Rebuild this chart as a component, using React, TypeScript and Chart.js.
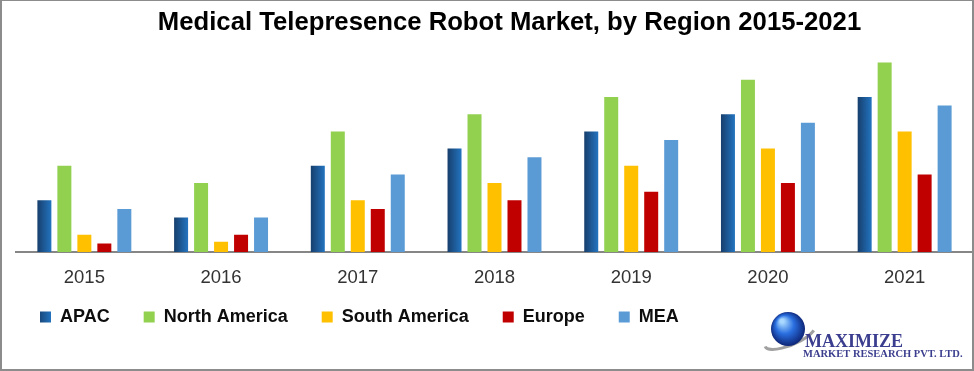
import React, { useEffect, useRef } from "react";
import { Chart, registerables } from "chart.js";

Chart.register(...registerables);

const categories = ["2015", "2016", "2017", "2018", "2019", "2020", "2021"];
const apac = [3, 2, 5, 6, 7, 8, 9];
const northAmerica = [5, 4, 7, 8, 9, 10, 11];
const southAmerica = [1, 0.6, 3, 4, 5, 6, 7];
const europe = [0.5, 1, 2.5, 3, 3.5, 4, 4.5];
const mea = [2.5, 2, 4.5, 5.5, 6.5, 7.5, 8.5];

const titleText = "Medical Telepresence Robot Market, by Region 2015-2021";

const apacFill = (c: any) => {
  const el = c.element;
  if (c.type !== "data" || !el || !isFinite(el.x) || !el.width) return "#1f62a6";
  const g = c.chart.ctx.createLinearGradient(el.x - el.width / 2, 0, el.x + el.width / 2, 0);
  g.addColorStop(0, "#173f6d");
  g.addColorStop(1, "#2374c0");
  return g;
};

// let the x tick labels draw below the (shortened) axis box without being clipped,
// and centre the title a little right of the canvas centre as in the reference
const layoutTweakPlugin = {
  id: "layoutTweak",
  afterLayout(chart: any) {
    const x = chart.scales.x;
    if (x) x.bottom = x.top + 45;
    const t = chart.titleBlock;
    if (t) t.left = 46;
  },
};

const logoPlugin = {
  id: "logo",
  afterDraw(chart: any) {
    const ctx = chart.ctx;
    ctx.save();
    ctx.strokeStyle = "#a0a0a0";
    ctx.lineWidth = 3;
    ctx.beginPath();
    ctx.ellipse(790, 336, 27, 9, -0.4, 0.15 * Math.PI, 1.0 * Math.PI);
    ctx.stroke();
    const rg = ctx.createRadialGradient(782, 321, 2, 788, 329, 18);
    rg.addColorStop(0, "#a8d8ff");
    rg.addColorStop(0.45, "#2a6fe0");
    rg.addColorStop(1, "#0b1f6e");
    ctx.fillStyle = rg;
    ctx.beginPath();
    ctx.arc(788, 329, 17, 0, Math.PI * 2);
    ctx.fill();
    ctx.fillStyle = "#3b3e8e";
    ctx.textBaseline = "alphabetic";
    ctx.textAlign = "left";
    ctx.font = 'bold 18px "Liberation Serif"';
    ctx.fillText("MAXIMIZE", 805, 347);
    ctx.font = 'bold 10.5px "Liberation Serif"';
    ctx.fillText("MARKET RESEARCH PVT. LTD.", 803, 357);
    ctx.restore();
  },
};

export default function App() {
  const ref = useRef<HTMLCanvasElement>(null);
  useEffect(() => {
    document.body.style.margin = "0";
    const canvas = ref.current;
    if (!canvas) return;
    const chart = new Chart(canvas, {
      type: "bar",
      data: {
        labels: categories,
        datasets: [
          { label: "APAC", data: apac, backgroundColor: apacFill as any },
          { label: "North America", data: northAmerica, backgroundColor: "#92d050" },
          { label: "South America", data: southAmerica, backgroundColor: "#ffc000" },
          { label: "Europe", data: europe, backgroundColor: "#c00000" },
          { label: "MEA", data: mea, backgroundColor: "#5b9bd5" },
        ],
      },
      options: {
        animation: false,
        responsive: false,
        maintainAspectRatio: false,
        layout: { padding: { left: 6, right: 1, top: 0, bottom: 35 } },
        datasets: { bar: { categoryPercentage: 0.731, barPercentage: 0.7 } },
        scales: {
          x: {
            grid: { display: false, drawTicks: false },
            border: { display: true, color: "#868686", width: 2 },
            ticks: {
              padding: 15,
              color: "#333333",
              font: { family: '"Liberation Sans", Arial, sans-serif', size: 18.5 },
            },
            afterFit: (s: any) => {
              s.height = 22;
            },
          },
          y: {
            display: true,
            min: 0,
            max: 12,
            ticks: { display: false },
            grid: { display: false, drawTicks: false },
            border: { display: false },
            afterFit: (s: any) => {
              s.width = 10;
            },
          },
        },
        plugins: {
          title: {
            display: true,
            text: titleText,
            color: "#000",
            padding: { top: 7, bottom: 7.4 },
            font: { family: '"Liberation Sans", Arial, sans-serif', size: 25.7, weight: "bold" },
          },
          legend: {
            position: "bottom",
            align: "start",
            labels: {
              boxWidth: 11,
              boxHeight: 11,
              padding: 34,
              color: "#0d0d0d",
              font: { family: '"Liberation Sans", Arial, sans-serif', size: 18, weight: "bold" },
            },
          },
          tooltip: { enabled: false },
        },
      },
      plugins: [layoutTweakPlugin, logoPlugin],
    });
    chart.update();
    return () => chart.destroy();
  }, []);
  return (
    <div style={{ position: "relative", width: 974, height: 371 }}>
      <canvas ref={ref} width={974} height={371} style={{ display: "block" }} />
      <div
        style={{
          position: "absolute",
          left: 0,
          top: 0,
          width: 974,
          height: 371,
          boxSizing: "border-box",
          borderTop: "1px solid #8c8c8c",
          borderLeft: "2px solid #8c8c8c",
          borderRight: "2px solid #8c8c8c",
          borderBottom: "2px solid #8c8c8c",
          pointerEvents: "none",
        }}
      />
    </div>
  );
}
